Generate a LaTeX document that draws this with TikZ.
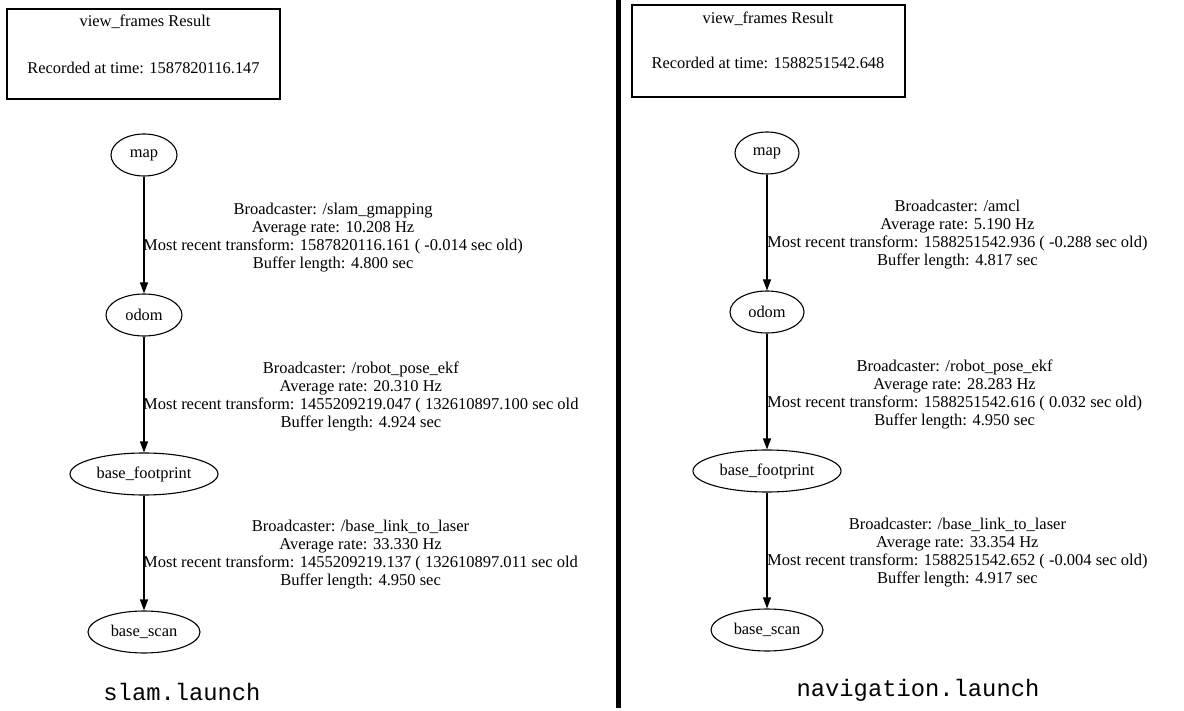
\documentclass[tikz,border=0pt]{standalone}
\usepackage{fontspec}
\setmainfont{Liberation Serif}
\newfontfamily\launchfont{Liberation Mono}
\usetikzlibrary{arrows.meta,shapes.geometric}
\tikzset{
  frame/.style={draw, ellipse, line width=1.1pt, inner sep=0pt, minimum height=42pt, font=\fontsize{16.4}{18}\selectfont},
  edge/.style={draw, line width=1.1pt, -{Triangle[length=11pt,width=8pt]}},
  lbl/.style={anchor=west, align=center, inner sep=0pt, font=\fontsize{16.5}{18}\selectfont},
  resbox/.style={draw, line width=2pt, inner sep=0pt},
  restext/.style={inner sep=0pt, font=\fontsize{16.4}{18}\selectfont},
  launch/.style={inner sep=0pt, font=\launchfont\fontsize{23.8}{26}\selectfont},
  divider/.style={line width=5pt}
}
\begin{document}
\begin{tikzpicture}[x=1pt,y=-1pt]
\useasboundingbox (0,0) rectangle (1184,711);
\fill[white] (0,0) rectangle (1184,711);

% divider
\coordinate (dtop) at (618.5,0);
\coordinate (dbot) at (618.5,708);
\draw[divider] (dtop) -- (dbot);

% ---------- left: slam.launch ----------
\node[resbox, minimum width=273pt, minimum height=90pt] (boxL) at (143.5,54) {};
\node[restext] (titleL) at (145,22) {view\_frames Result};
\node[restext] (timeL) at (143.5,68) {Recorded at time: 1587820116.147};

\node[frame, minimum width=66pt] (mapL) at (144,155) {map};
\node[frame, minimum width=76pt] (odomL) at (144,315) {odom};
\node[frame, minimum width=148pt] (bfL) at (144,474) {base\_footprint};
\node[frame, minimum width=112pt] (bsL) at (144,632) {base\_scan};

\draw[edge] (mapL) -- (odomL);
\draw[edge] (odomL) -- (bfL);
\draw[edge] (bfL) -- (bsL);

\node[lbl] (l1L) at (143,238) {Broadcaster: /slam\_gmapping\\Average rate: 10.208 Hz\\Most recent transform: 1587820116.161 ( -0.014 sec old)\\Buffer length: 4.800 sec};
\node[lbl] (l2L) at (143,396) {Broadcaster: /robot\_pose\_ekf\\Average rate: 20.310 Hz\\Most recent transform: 1455209219.047 ( 132610897.100 sec old\\Buffer length: 4.924 sec};
\node[lbl] (l3L) at (143,555) {Broadcaster: /base\_link\_to\_laser\\Average rate: 33.330 Hz\\Most recent transform: 1455209219.137 ( 132610897.011 sec old\\Buffer length: 4.950 sec};

\node[launch] (launchL) at (182,692) {slam.launch};

% ---------- right: navigation.launch ----------
\node[resbox, minimum width=273pt, minimum height=92pt] (boxR) at (768.5,51) {};
\node[restext] (titleR) at (768,19) {view\_frames Result};
\node[restext] (timeR) at (768,63) {Recorded at time: 1588251542.648};

\node[frame, minimum width=64pt] (mapR) at (767,153) {map};
\node[frame, minimum width=74pt] (odomR) at (767,312) {odom};
\node[frame, minimum width=148pt] (bfR) at (767,471) {base\_footprint};
\node[frame, minimum width=112pt] (bsR) at (767,630) {base\_scan};

\draw[edge] (mapR) -- (odomR);
\draw[edge] (odomR) -- (bfR);
\draw[edge] (bfR) -- (bsR);

\node[lbl] (l1R) at (767,235) {Broadcaster: /amcl\\Average rate: 5.190 Hz\\Most recent transform: 1588251542.936 ( -0.288 sec old)\\Buffer length: 4.817 sec};
\node[lbl] (l2R) at (767,394) {Broadcaster: /robot\_pose\_ekf\\Average rate: 28.283 Hz\\Most recent transform: 1588251542.616 ( 0.032 sec old)\\Buffer length: 4.950 sec};
\node[lbl] (l3R) at (767,553) {Broadcaster: /base\_link\_to\_laser\\Average rate: 33.354 Hz\\Most recent transform: 1588251542.652 ( -0.004 sec old)\\Buffer length: 4.917 sec};

\node[launch] (launchR) at (918,690) {navigation.launch};
\end{tikzpicture}
\end{document}
